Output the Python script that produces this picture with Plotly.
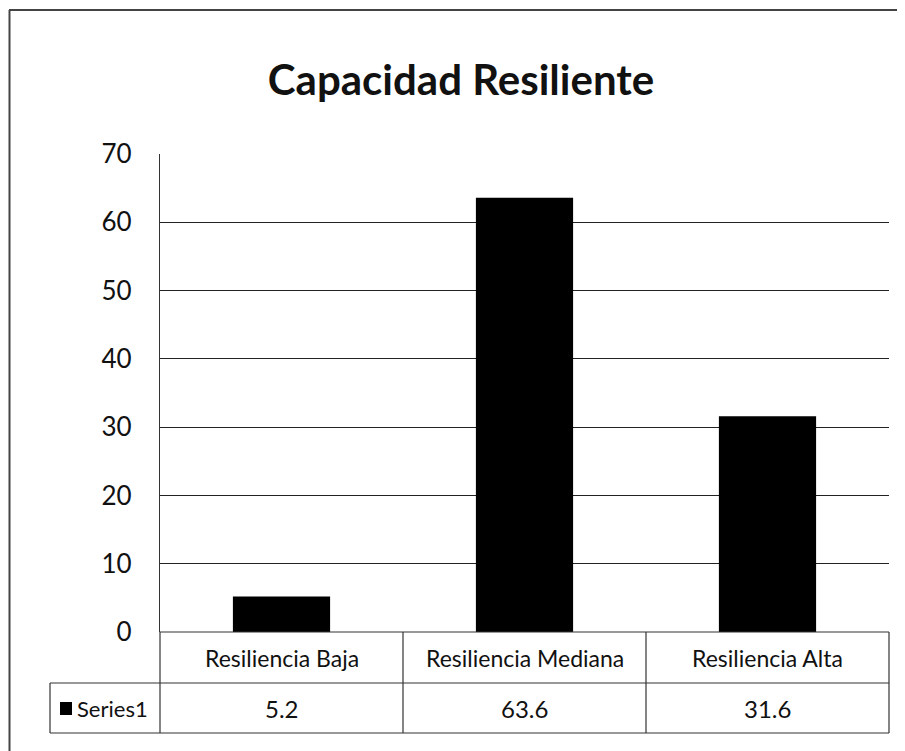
import plotly.graph_objects as go

categories = ["Resiliencia Baja", "Resiliencia Mediana", "Resiliencia Alta"]
values = [5.2, 63.6, 31.6]
value_labels = ["5.2", "63.6", "31.6"]
series_name = "Series1"
tick_vals = [0, 10, 20, 30, 40, 50, 60, 70]
title_text = "Capacidad Resiliente"

OFF = 8  # page body margin
W, H = 905 - OFF, 751 - OFF
PL, PR, PT, PB = 160, 889, 154, 632  # plot area in page pixels
L, R, T, B = PL - OFF, W - (PR - OFF), PT - OFF, H - (PB - OFF)
plot_h = H - T - B
plot_w = W - L - R

def py(pix):
    return (PB - pix) / plot_h

def px(pix):
    return (pix - PL) / plot_w

fig = go.Figure()
fig.add_trace(go.Bar(x=categories, y=values, marker=dict(color="#000000", line=dict(width=0)),
                     width=0.4, name=series_name, showlegend=False))

font_main = "Lato, 'Open Sans', sans-serif"
shapes = []
line_c = "#333333"
# table horizontal lines
for yy, x0 in [(632, 160), (683, 50), (733, 50)]:
    shapes.append(dict(type="line", xref="paper", yref="paper", x0=px(x0), x1=px(889), y0=py(yy), y1=py(yy),
                       line=dict(color=line_c, width=1.2)))
# table vertical lines
for xx, y0 in [(160, 632), (403, 632), (646, 632), (889, 632), (50, 683)]:
    shapes.append(dict(type="line", xref="paper", yref="paper", x0=px(xx), x1=px(xx), y0=py(y0), y1=py(733),
                       line=dict(color=line_c, width=1.2)))
# legend key square
shapes.append(dict(type="rect", xref="paper", yref="paper", x0=px(60), x1=px(72), y0=py(715), y1=py(702),
                   fillcolor="#000000", line=dict(width=0)))
# outer frame (top and left edges)
shapes.append(dict(type="line", xref="paper", yref="paper", x0=px(9), x1=px(905), y0=py(10), y1=py(10),
                   line=dict(color="#444444", width=2)))
shapes.append(dict(type="line", xref="paper", yref="paper", x0=px(9.5), x1=px(9.5), y0=py(10), y1=py(760),
                   line=dict(color="#444444", width=2)))

annotations = []
for c in categories:
    annotations.append(dict(x=c, xref="x", y=py(658), yref="paper", text=c, showarrow=False,
                            font=dict(family=font_main, size=23, color="#111111"), xanchor="center", yanchor="middle"))
for c, lab in zip(categories, value_labels):
    annotations.append(dict(x=c, xref="x", y=py(708), yref="paper", text=lab, showarrow=False,
                            font=dict(family=font_main, size=24, color="#111111"), xanchor="center", yanchor="middle"))
annotations.append(dict(x=px(75), xref="paper", y=py(708), yref="paper", text=series_name, showarrow=False,
                        font=dict(family=font_main, size=22, color="#111111"), xanchor="left", yanchor="middle"))

fig.update_layout(
    width=W, height=H,
    margin=dict(l=L, r=R, t=T, b=B),
    paper_bgcolor="white", plot_bgcolor="white",
    title=dict(text="<b>" + title_text + "</b>", x=(461 - OFF) / W, xref="container", xanchor="center",
               y=1 - (80 - OFF) / H, yref="container", yanchor="middle",
               font=dict(family=font_main, size=42, color="#111111")),
    xaxis=dict(showticklabels=False, showgrid=False, showline=False, zeroline=False, ticks=""),
    yaxis=dict(range=[0, 70], tickvals=tick_vals, showgrid=True, gridcolor="#222222", gridwidth=1.2,
               showline=True, linecolor=line_c, linewidth=1.2, zeroline=False, ticks="",
               tickfont=dict(family=font_main, size=26, color="#111111"), ticklabelstandoff=22),
    shapes=shapes, annotations=annotations, bargap=0.6,
)

fig.write_html("out.html")
